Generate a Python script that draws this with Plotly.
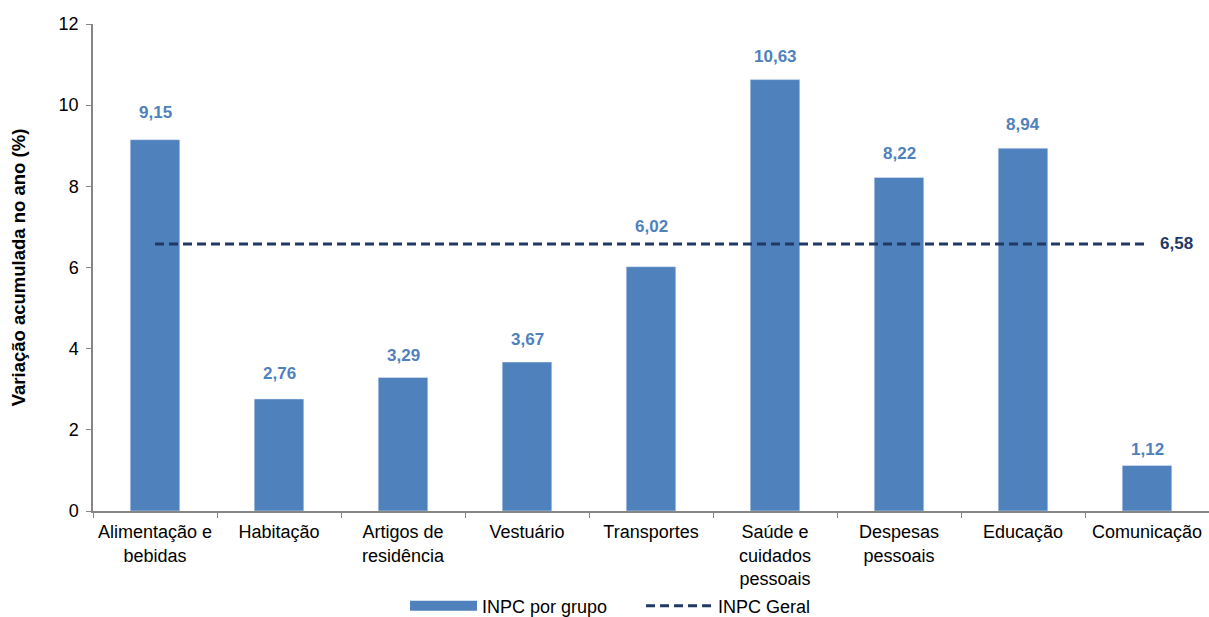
import plotly.graph_objects as go

categories = ["Alimentação e<br>bebidas", "Habitação", "Artigos de<br>residência", "Vestuário",
              "Transportes", "Saúde e<br>cuidados<br>pessoais", "Despesas<br>pessoais", "Educação", "Comunicação"]
values = [9.15, 2.76, 3.29, 3.67, 6.02, 10.63, 8.22, 8.94, 1.12]
geral = 6.58
y_ticks = [0, 2, 4, 6, 8, 10, 12]

# label placement offsets (px above bar top), as in the original chart
label_shift = [27, 25, 22, 23, 40, 23, 24, 24, 16]

bar_color = "#4F81BD"
line_color = "#1F3864"
font_family = "Liberation Sans, Arial, sans-serif"

def fmt(v):
    return f"{v:.2f}".replace(".", ",")

fig = go.Figure()
fig.add_trace(go.Bar(x=categories, y=values, marker_color=bar_color, width=0.4,
                     showlegend=False, name="INPC por grupo"))
# legend proxy for bars (wide rectangle)
fig.add_trace(go.Scatter(x=[None], y=[None], mode="lines", name="INPC por grupo",
                         line=dict(color=bar_color, width=10)))
fig.add_trace(go.Scatter(x=categories, y=[geral] * len(categories), mode="lines",
                         name="INPC Geral", line=dict(color=line_color, width=3, dash="9px,5px")))

for c, v, s in zip(categories, values, label_shift):
    fig.add_annotation(x=c, y=v, text="<b>" + fmt(v) + "</b>", showarrow=False,
                       yanchor="middle", yshift=s,
                       font=dict(size=17, color=bar_color, family=font_family))
fig.add_annotation(x=categories[-1], y=geral, text="<b>" + fmt(geral) + "</b>", showarrow=False,
                   xanchor="left", yanchor="middle", xshift=11,
                   font=dict(size=17, color=line_color, family=font_family))

fig.update_layout(
    width=1209, height=617,
    margin=dict(l=93, r=0, t=24, b=106, autoexpand=False),
    plot_bgcolor="white", paper_bgcolor="white",
    font=dict(family=font_family, size=18, color="#000000"),
    bargap=0.6,
    legend=dict(orientation="h", x=0.2796, xanchor="left", y=-0.195, yanchor="middle",
                font=dict(size=18), itemwidth=67, entrywidth=154, bgcolor="rgba(0,0,0,0)"),
    xaxis=dict(showline=True, linecolor="#868686", linewidth=1.5, ticks="outside",
               tickson="boundaries", ticklen=5, tickcolor="#868686", showgrid=False,
               range=[-0.5, len(categories) - 0.5], tickfont=dict(size=18), ticklabelstandoff=4),
    yaxis=dict(range=[0, 12], tickvals=y_ticks, showline=True, linecolor="#868686", linewidth=1.5,
               ticks="outside", ticklen=5, tickcolor="#868686", showgrid=False, zeroline=False,
               tickfont=dict(size=18), ticklabelstandoff=4,
               title=dict(text="<b>Variação acumulada no ano (%)</b>", font=dict(size=18.5), standoff=28)),
)

fig.write_html("out.html")
